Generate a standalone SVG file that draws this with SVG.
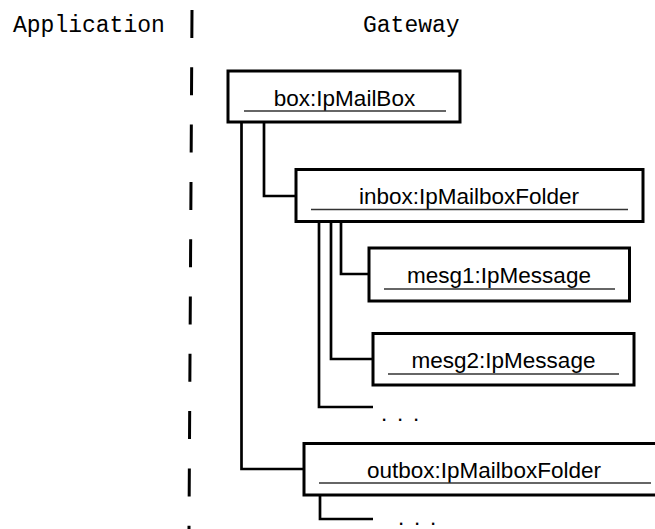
<svg xmlns="http://www.w3.org/2000/svg" width="655" height="529" viewBox="0 0 655 529">
<style>
.lane{font-family:"Liberation Mono","Courier New",monospace;font-size:23px;fill:#000}
.lbl{font-family:"Liberation Sans",Arial,sans-serif;font-size:22.5px;fill:#000;text-anchor:middle}
.dots{font-family:"Liberation Sans",Arial,sans-serif;font-size:22.5px;fill:#000;letter-spacing:1.75px}
.box{fill:#fff;stroke:#000;stroke-width:3}
.ul{stroke:#333;stroke-width:1.3}
.conn{fill:none;stroke:#000;stroke-width:2.7}
</style>
<rect width="655" height="529" fill="#fff"/>
<g id="lanes">
<text class="lane" x="13" y="32">Application</text>
<text class="lane" x="363" y="32">Gateway</text>
<line x1="192" y1="10" x2="189" y2="529" stroke="#000" stroke-width="3" stroke-dasharray="28 29.3"/>
</g>
<g id="connectors">
<path class="conn" d="M264 122 V196 H296"/>
<path class="conn" d="M241.5 122 V469 H304"/>
<path class="conn" d="M341 221 V274 H369"/>
<path class="conn" d="M331 221 V359 H373"/>
<path class="conn" d="M319 221 V407 H373"/>
<path class="conn" d="M320 495 V519 H373"/>
</g>
<g id="box">
<rect class="box" x="228" y="71" width="232" height="51"/>
<text class="lbl" x="344.5" y="106">box:IpMailBox</text>
<line class="ul" x1="244" y1="111" x2="446" y2="111"/>
</g>
<g id="inbox">
<rect class="box" x="296" y="169.5" width="347" height="52"/>
<text class="lbl" x="469" y="204">inbox:IpMailboxFolder</text>
<line class="ul" x1="311" y1="209.5" x2="628" y2="209.5"/>
</g>
<g id="mesg1">
<rect class="box" x="369" y="248" width="260.5" height="53"/>
<text class="lbl" x="499" y="283">mesg1:IpMessage</text>
<line class="ul" x1="384" y1="289" x2="615" y2="289"/>
</g>
<g id="mesg2">
<rect class="box" x="373" y="333.5" width="261" height="51.5"/>
<text class="lbl" x="503.5" y="368">mesg2:IpMessage</text>
<line class="ul" x1="388" y1="374" x2="619" y2="374"/>
</g>
<g id="more1">
<text class="dots" x="381" y="421">. . .</text>
</g>
<g id="outbox">
<rect class="box" x="304" y="443.5" width="360" height="51.5"/>
<text class="lbl" x="484" y="478">outbox:IpMailboxFolder</text>
<line class="ul" x1="319" y1="483" x2="651" y2="483"/>
</g>
<g id="more2">
<text class="dots" x="398" y="525">. . .</text>
</g>
</svg>
